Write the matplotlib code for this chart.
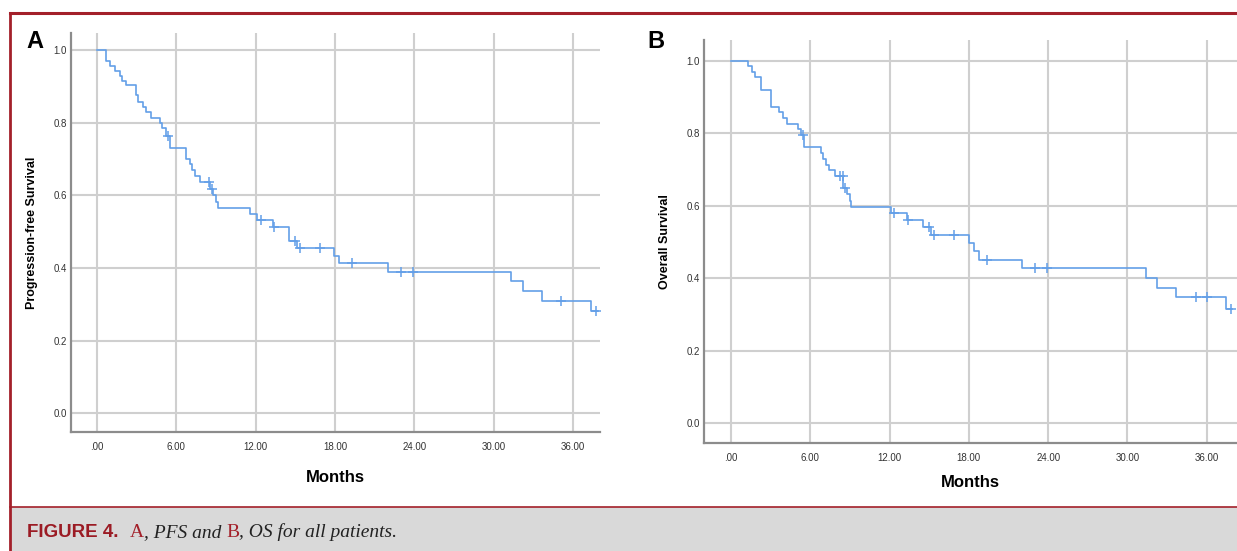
import numpy as np
import matplotlib.pyplot as plt
from matplotlib.patches import Rectangle
from matplotlib.lines import Line2D

# PFS curve (panel A): event times (months) and survival level after each drop
pfs_times = [0.71, 1.01, 1.39, 1.77, 1.89, 2.22, 2.95, 3.12, 3.48, 3.68, 4.11, 4.74, 4.95, 5.20,
             5.50, 6.76, 7.00, 7.18, 7.38, 7.80, 8.55, 8.80, 8.98, 9.18, 11.55, 12.10, 13.32,
             14.53, 15.10, 17.95, 18.33, 22.03, 31.35, 32.23, 33.67, 37.40]
pfs_surv = [0.971, 0.957, 0.943, 0.929, 0.914, 0.905, 0.876, 0.858, 0.843, 0.829, 0.814, 0.800,
            0.786, 0.764, 0.729, 0.700, 0.686, 0.671, 0.653, 0.636, 0.618, 0.600, 0.582, 0.565,
            0.549, 0.532, 0.512, 0.473, 0.454, 0.434, 0.413, 0.389, 0.363, 0.337, 0.310, 0.281]
pfs_censor = [5.40, 8.50, 8.68, 12.40, 13.40, 14.95, 15.33, 16.87, 19.31, 22.99, 23.92, 35.13, 37.77]
pfs_end = 37.9

# OS curve (panel B)
os_times = [1.26, 1.58, 1.83, 2.29, 3.02, 3.65, 3.92, 4.27, 5.06, 5.27, 5.55, 6.80, 6.98, 7.16,
            7.41, 7.86, 8.50, 8.79, 8.97, 9.12, 12.08, 13.30, 14.52, 15.15, 18.00, 18.38, 18.76,
            22.04, 31.43, 32.27, 33.71, 37.44]
os_surv = [0.986, 0.971, 0.955, 0.921, 0.874, 0.858, 0.842, 0.827, 0.812, 0.797, 0.762, 0.745,
           0.730, 0.714, 0.698, 0.682, 0.650, 0.632, 0.614, 0.597, 0.580, 0.560, 0.541, 0.520,
           0.496, 0.474, 0.450, 0.428, 0.401, 0.373, 0.348, 0.316]
os_censor = [5.42, 8.24, 8.45, 8.62, 12.36, 13.39, 14.95, 15.33, 16.86, 19.34, 23.00, 23.93,
             35.17, 36.00, 37.82]
os_end = 37.9

x_ticks = [0, 6, 12, 18, 24, 30, 36]
x_ticklabels = [".00", "6.00", "12.00", "18.00", "24.00", "30.00", "36.00"]
y_ticks = [0.0, 0.2, 0.4, 0.6, 0.8, 1.0]
y_ticklabels = ["0.0", "0.2", "0.4", "0.6", "0.8", "1.0"]

LINE = "#639fe8"
GRID = "#cfcfcf"
RED = "#a3202a"

plt.rcParams["font.family"] = ["Liberation Sans", "DejaVu Sans"]

W, H = 1237, 551
fig = plt.figure(figsize=(W / 100, H / 100), dpi=100)


def px_axes(left, top, right, bottom):
    return fig.add_axes([left / W, 1 - bottom / H, (right - left) / W, (bottom - top) / H])


def km_panel(ax, times, surv, censor, end, xlim, ylim, ylabel, xpad):
    xs = np.r_[0.0, times, end]
    ys = np.r_[1.0, surv, surv[-1]]
    ax.step(xs, ys, where="post", color=LINE, lw=1.2, zorder=3)
    # censored marks sit on the current step level
    idx = np.searchsorted(xs, censor, side="right") - 1
    ax.plot(censor, ys[idx], "+", color=LINE, ms=6.5, mew=1.1, zorder=4)

    ax.set_xlim(*xlim)
    ax.set_ylim(*ylim)
    ax.set_xticks(x_ticks, x_ticklabels)
    ax.set_yticks(y_ticks, y_ticklabels)
    ax.tick_params(length=0, labelsize=7, colors="#333333")
    ax.tick_params(axis="x", pad=7)
    ax.tick_params(axis="y", pad=3)
    ax.grid(True, color=GRID, lw=1.5, zorder=0)
    ax.set_axisbelow(True)
    for s in ("top", "right"):
        ax.spines[s].set_visible(False)
    for s in ("left", "bottom"):
        ax.spines[s].set_color("#8c8c8c")
        ax.spines[s].set_linewidth(1.6)
    ax.set_xlabel("Months", fontsize=12, fontweight="bold", labelpad=xpad)
    ax.set_ylabel(ylabel, fontsize=9, fontweight="bold", labelpad=11)


ax_a = px_axes(71, 33, 600, 432)
km_panel(ax_a, pfs_times, pfs_surv, pfs_censor, pfs_end, (-1.97, 38.05), (-0.052, 1.047),
         "Progression-free Survival", 13.5)

ax_b = px_axes(704, 40, 1237, 443)
km_panel(ax_b, os_times, os_surv, os_censor, os_end, (-2.04, 38.29), (-0.055, 1.058),
         "Overall Survival", 9)

fig.text(35 / W, 1 - 42 / H, "A", fontsize=17, fontweight="bold", ha="center", va="center")
fig.text(656 / W, 1 - 42 / H, "B", fontsize=17, fontweight="bold", ha="center", va="center")

# frame and caption band
fig.add_artist(Rectangle((10 / W, 0), 1 - 10 / W, 44 / H, transform=fig.transFigure,
                         facecolor="#d9d9d9", edgecolor="none", zorder=0))
fig.add_artist(Line2D([10 / W, 1], [1 - 12.5 / H] * 2, transform=fig.transFigure, color=RED, lw=2.2))
fig.add_artist(Line2D([10 / W] * 2, [0, 1 - 12.5 / H], transform=fig.transFigure, color=RED, lw=2.0))
fig.add_artist(Line2D([10 / W, 1], [1 - 506.5 / H] * 2, transform=fig.transFigure, color=RED, lw=1.2))

serif = ["Liberation Serif", "DejaVu Serif"]
prev = fig.text(27 / W, 1 - 537 / H, "FIGURE 4.", fontsize=13.5, fontweight="bold",
                color="#9b1b24", va="baseline")
parts = [("A", dict(color=RED, family=serif, fontsize=14), 8),
         (", PFS and ", dict(color="#222222", family=serif, style="italic", fontsize=14), 0),
         ("B", dict(color=RED, family=serif, fontsize=14), 0),
         (", OS for all patients.", dict(color="#222222", family=serif, style="italic", fontsize=14), 0)]
for text, kw, gap in parts:
    prev = fig.add_artist(plt.Annotation(text, xy=(1, 0), xycoords=prev, xytext=(gap, 0),
                                         textcoords="offset points", va="bottom", **kw))

fig.savefig("out.png", dpi=100)
